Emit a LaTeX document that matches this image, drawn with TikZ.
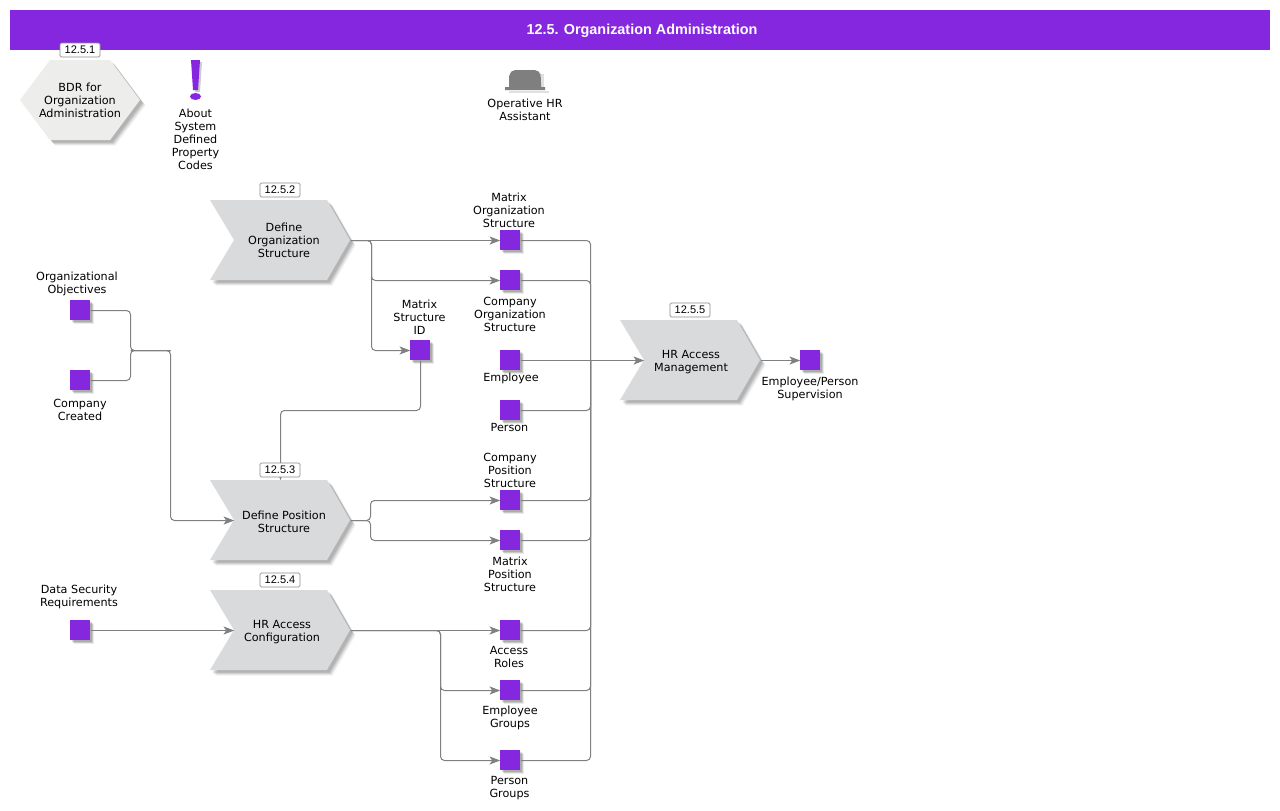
\documentclass[tikz,border=0pt]{standalone}
\usepackage{fontspec}
\setmainfont{DejaVu Sans}
\newfontfamily\arialf{Liberation Sans}
\usetikzlibrary{arrows.meta,shadows,calc}
\definecolor{vio}{HTML}{8627E0}
\definecolor{chevc}{HTML}{D9DADC}
\definecolor{hexc}{HTML}{EDEDEC}
\definecolor{linec}{HTML}{808080}
\definecolor{hatc}{HTML}{7F7F7F}
\newcommand\softshadow[1]{%
  \fill[black,opacity=.05,shift={(5.5,5.5)}] #1;
  \fill[black,opacity=.08,shift={(4.5,4.5)}] #1;
  \fill[black,opacity=.10,shift={(3.5,3.5)}] #1;
  \fill[black,opacity=.10,shift={(2.5,2.5)}] #1;
}
\newcommand\chev[6]{% name, x, y, text x, text y, text
  \softshadow{(#2,#3) -- ++(117,0) -- ++(23,40) -- ++(-23,40) -- ++(-117,0) -- ++(24,-40) -- cycle}
  \fill[chevc] (#2,#3) -- ++(117,0) -- ++(23,40) -- ++(-23,40) -- ++(-117,0) -- ++(24,-40) -- cycle;
  \node[chevbody] (#1) at (#2+82,#3+40) {};
  \node[lbl] (#1-t) at (#4,#5) {#6};
}
\tikzset{
  x=.75pt,y=-.75pt,
  lbl/.style={font=\fontsize{8.4}{9.75}\selectfont,align=center,inner sep=0pt,text=black},
  chevbody/.style={minimum width=87pt,minimum height=60pt,inner sep=0pt},
  sq/.style={fill=vio,minimum size=15pt,inner sep=0pt,
    drop shadow={shadow xshift=3pt,shadow yshift=-3pt,fill=black,opacity=.08},
    drop shadow={shadow xshift=2.2pt,shadow yshift=-2.2pt,fill=black,opacity=.14},
    drop shadow={shadow xshift=1.5pt,shadow yshift=-1.5pt,fill=black,opacity=.14}},
  badge/.style={draw=black!45,line width=.6pt,fill=white,rounded corners=1pt,minimum width=30pt,minimum height=10.5pt,inner sep=0pt,
    font=\arialf\fontsize{8.25}{9}\selectfont},
  conn/.style={draw=linec,line width=.75pt,rounded corners=3pt,transform canvas={shift={(.375pt,-.375pt)}}},
  arr/.style={conn,-{Stealth[length=8pt,width=6pt,inset=2pt]}},
}
\begin{document}
\begin{tikzpicture}
\useasboundingbox (0,0) rectangle (1280,810);
\fill[white] (0,0) rectangle (1280,810);
% header
\node[fill=vio,minimum width=945pt,minimum height=30pt,inner sep=0pt] (head) at (640,30) {};
\node[text=white,inner sep=0pt,font=\arialf\bfseries\fontsize{10.8}{12}\selectfont] (title) at (642,31.3) {12.5. Organization Administration};
% hexagon
\softshadow{(20,100) -- (50,60) -- (110,60) -- (140,100) -- (110,140) -- (50,140) -- cycle}
\fill[hexc] (20,100) -- (50,60) -- (110,60) -- (140,100) -- (110,140) -- (50,140) -- cycle;
\node[lbl] (bdr) at (80,100) {BDR for\\Organization\\Administration};
% exclamation
\fill[black,opacity=.2,shift={(2,2)}] (191,60) -- (200,60) -- (198,90) -- (193,90) -- cycle;
\fill[vio] (191,60) -- (200,60) -- (198,90) -- (193,90) -- cycle;
\fill[vio] (195.5,96.5) ellipse [x radius=5.5,y radius=3.5];
\node[lbl] (about) at (195.5,139) {About\\System\\Defined\\Property\\Codes};
% hat
\fill[black,opacity=.12] (509,91) rectangle (549,93);
\fill[black,opacity=.12] (541,74) rectangle (544,87);
\fill[hatc] (505,87) -- (509,87) -- (509,78) [rounded corners=4pt] -- (510,70) -- (540,70) -- (541,78) [sharp corners] -- (541,87) -- (545,87) -- (545,90) -- (505,90) -- cycle;
\node[lbl] (hr) at (525,110) {Operative HR\\Assistant};
% chevrons
\chev{dos}{210}{200}{284}{240.5}{Define\\Organization\\Structure}
\chev{dps}{210}{480}{284}{522}{Define Position\\Structure}
\chev{hac}{210}{590}{282}{632}{HR Access\\Configuration}
\chev{ham}{620}{320}{691}{361.8}{HR Access\\Management}
% squares
\node[sq] (oo) at (80,310) {};
\node[sq] (cc) at (80,380) {};
\node[sq] (dsr) at (80,630) {};
\node[sq] (mos) at (510,240) {};
\node[sq] (cos) at (510,280) {};
\node[sq] (msi) at (420,350) {};
\node[sq] (emp) at (510,360) {};
\node[sq] (per) at (510,410) {};
\node[sq] (cps) at (510,500) {};
\node[sq] (mps) at (510,540) {};
\node[sq] (ar) at (510,630) {};
\node[sq] (eg) at (510,690) {};
\node[sq] (pg) at (510,760) {};
\node[sq] (eps) at (810,360) {};
% labels
\node[lbl] (oo-t) at (77,284) {Organizational\\Objectives};
\node[lbl] (cc-t) at (80,409.5) {Company\\Created};
\node[lbl] (dsr-t) at (79,597) {Data Security\\Requirements};
\node[lbl] (mos-t) at (509,210) {Matrix\\Organization\\Structure};
\node[lbl] (cos-t) at (510,314) {Company\\Organization\\Structure};
\node[lbl] (msi-t) at (419.5,317) {Matrix\\Structure\\ID};
\node[lbl] (emp-t) at (511,378.5) {Employee};
\node[lbl] (per-t) at (509.5,427) {Person};
\node[lbl] (cps-t) at (510,470) {Company\\Position\\Structure};
\node[lbl] (mps-t) at (510,574) {Matrix\\Position\\Structure};
\node[lbl] (ar-t) at (509,656.5) {Access\\Roles};
\node[lbl] (eg-t) at (510,718) {Employee\\Groups};
\node[lbl] (pg-t) at (509.5,788) {Person\\Groups};
\node[lbl] (eps-t) at (810,389) {Employee/Person\\Supervision};
% junctions
\coordinate (j1) at (371,240);
\coordinate (j2) at (130,350);
\coordinate (j3) at (170,350);
\coordinate (j4) at (370,520);
\coordinate (j5) at (440,630);
\coordinate (bus) at (590,360);
\coordinate (mid) at (420,410);
% connectors
\draw[arr] (dos.east) -- (mos.west);
\draw[arr] (dos.east) -- (j1) |- (cos.west);
\draw[arr] (dos.east) -- (j1) |- (msi.west);
\draw[conn] (oo.east) -| (j2) -- (j3);
\draw[conn] (cc.east) -| (j2) -- (j3);
\draw[arr] (j2) -- (j3) |- (dps.west);
\draw[arr] (msi.south) |- ([xshift=-9pt]dps.north |- mid) -- ([xshift=-9pt]dps.north);
\draw[arr] (dps.east) -- (j4) |- (cps.west);
\draw[arr] (dps.east) -- (j4) |- (mps.west);
\draw[arr] (dsr.east) -- (hac.west);
\draw[arr] (hac.east) -- (ar.west);
\draw[arr] (hac.east) -- (j5) |- (eg.west);
\draw[arr] (hac.east) -- (j5) |- (pg.west);
\draw[conn] (mos.east) -| (bus);
\draw[conn] (cos.east) -| (bus);
\draw[conn] (per.east) -| (bus);
\draw[conn] (cps.east) -| (bus);
\draw[conn] (mps.east) -| (bus);
\draw[conn] (ar.east) -| (bus);
\draw[conn] (eg.east) -| (bus);
\draw[conn] (pg.east) -| (bus);
\draw[arr] (emp.east) -- (ham.west);
\draw[arr] (ham.east) -- (eps.west);
% badges
\node[badge] (b1) at (80,50) {12.5.1};
\node[badge] (b2) at (280,190) {12.5.2};
\node[badge] (b3) at (280,470) {12.5.3};
\node[badge] (b4) at (280,580) {12.5.4};
\node[badge] (b5) at (690,310) {12.5.5};
\end{tikzpicture}
\end{document}
